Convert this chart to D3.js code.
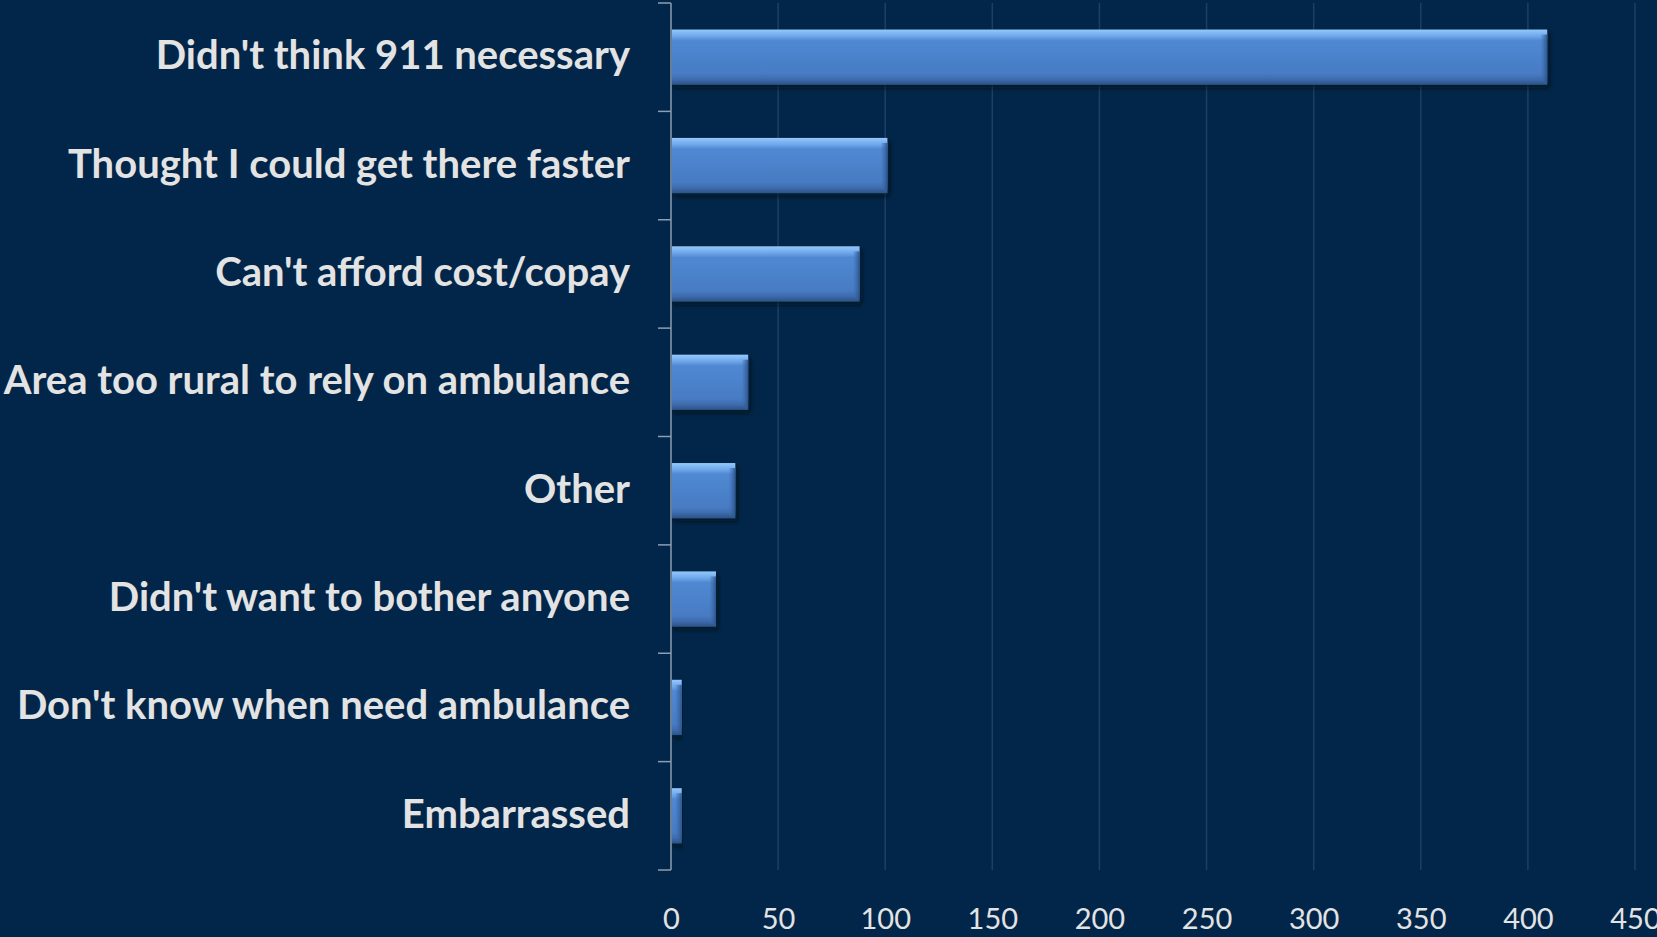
<!DOCTYPE html>
<html>
<head>
<meta charset="utf-8">
<script src="https://cdn.jsdelivr.net/npm/d3@7"></script>
<style>
  html, body { margin: 0; padding: 0; background: #022649; overflow: hidden; }
  svg { display: block; }
</style>
</head>
<body>
<div id="chart"></div>
<script>
const categories = [
  "Didn't think 911 necessary",
  'Thought I could get there faster',
  "Can't afford cost/copay",
  'Area too rural to rely on ambulance',
  'Other',
  "Didn't want to bother anyone",
  "Don't know when need ambulance",
  'Embarrassed',
];
const counts = [409, 101, 88, 36, 30, 21, 5, 5];
const xTicks = [0, 50, 100, 150, 200, 250, 300, 350, 400, 450];

const width = 1657;
const height = 937;
const margin = { top: 3, right: 22, bottom: 67, left: 671 };
const innerW = width - margin.left - margin.right;
const innerH = height - margin.top - margin.bottom;

const data = categories.map((c, i) => ({ key: c, value: counts[i] }));

const svg = d3.select('#chart').append('svg')
  .attr('width', width)
  .attr('height', height);

svg.append('rect')
  .attr('width', width)
  .attr('height', height)
  .attr('fill', '#022649');

const defs = svg.append('defs');

// bevelled bar look: light top edge, darker bottom
const grad = defs.append('linearGradient')
  .attr('id', 'barGrad')
  .attr('x1', 0).attr('y1', 0).attr('x2', 0).attr('y2', 1);
grad.append('stop').attr('offset', '0%').attr('stop-color', '#94c8fd');
grad.append('stop').attr('offset', '12%').attr('stop-color', '#6ea7ea');
grad.append('stop').attr('offset', '20%').attr('stop-color', '#5089d2');
grad.append('stop').attr('offset', '80%').attr('stop-color', '#477bc3');
grad.append('stop').attr('offset', '90%').attr('stop-color', '#3e6cae');
grad.append('stop').attr('offset', '100%').attr('stop-color', '#2c5187');

const edge = defs.append('linearGradient')
  .attr('id', 'edgeGrad')
  .attr('x1', 0).attr('y1', 0).attr('x2', 1).attr('y2', 0);
edge.append('stop').attr('offset', '0%').attr('stop-color', '#3d6db0').attr('stop-opacity', 0.2);
edge.append('stop').attr('offset', '100%').attr('stop-color', '#2b4f86').attr('stop-opacity', 0.9);

const shadow = defs.append('filter')
  .attr('id', 'shadow')
  .attr('x', '-5%').attr('y', '-20%').attr('width', '115%').attr('height', '160%');
shadow.append('feDropShadow')
  .attr('dx', 2).attr('dy', 3).attr('stdDeviation', 2.5)
  .attr('flood-color', '#000814').attr('flood-opacity', 0.7);

const x = d3.scaleLinear().domain([0, 450]).range([0, innerW]);
const y = d3.scaleBand().domain(categories).range([0, innerH]).paddingInner(0.49).paddingOuter(0.245);
const band = d3.scaleBand().domain(categories).range([0, innerH]);

const g = svg.append('g')
  .attr('transform', `translate(${margin.left},${margin.top})`);

// vertical gridlines
g.append('g')
  .selectAll('line')
  .data(xTicks.slice(1))
  .enter().append('line')
    .attr('x1', d => x(d))
    .attr('x2', d => x(d))
    .attr('y1', 0)
    .attr('y2', innerH)
    .attr('stroke', '#1d3f64')
    .attr('stroke-width', 1.5);

// bars
const bars = g.selectAll('.bar')
  .data(data)
  .enter().append('g')
    .attr('class', 'bar');

bars.append('rect')
  .attr('x', 1)
  .attr('y', d => y(d.key))
  .attr('width', d => x(d.value) - 1)
  .attr('height', y.bandwidth())
  .attr('fill', 'url(#barGrad)')
  .attr('filter', 'url(#shadow)');

bars.append('rect')
  .attr('x', d => Math.max(1, x(d.value) - 6))
  .attr('y', d => y(d.key) + 5)
  .attr('width', d => Math.min(6, x(d.value) - 1))
  .attr('height', y.bandwidth() - 8)
  .attr('fill', 'url(#edgeGrad)');

// x axis labels, no line
const xAxis = g.append('g')
  .attr('transform', `translate(0,${innerH})`)
  .call(d3.axisBottom(x).tickValues(xTicks).tickSize(0).tickPadding(38));
xAxis.select('.domain').remove();
xAxis.selectAll('text')
  .attr('fill', '#e3e3e3')
  .style('font-family', 'Lato, "Open Sans", sans-serif')
  .style('font-size', '29px');

// y axis with tick marks between categories
const yAxis = g.append('g');
yAxis.append('line')
  .attr('x1', 0).attr('x2', 0)
  .attr('y1', 0).attr('y2', innerH)
  .attr('stroke', '#8d9db2')
  .attr('stroke-width', 1.5);
yAxis.selectAll('.ytick')
  .data(categories.concat(['end']))
  .enter().append('line')
    .attr('class', 'ytick')
    .attr('x1', -13).attr('x2', 0)
    .attr('y1', (d, i) => (i < categories.length ? band(d) : innerH))
    .attr('y2', (d, i) => (i < categories.length ? band(d) : innerH))
    .attr('stroke', '#8d9db2')
    .attr('stroke-width', 1.5);

yAxis.selectAll('.ylabel')
  .data(categories)
  .enter().append('text')
    .attr('class', 'ylabel')
    .attr('x', -41)
    .attr('y', d => band(d) + band.bandwidth() / 2)
    .attr('dy', '0.3em')
    .attr('text-anchor', 'end')
    .attr('fill', '#e3e3e3')
    .style('font-family', 'Lato, "Open Sans", sans-serif')
    .style('font-weight', 'bold')
    .style('font-size', '40px')
    .text(d => d);
</script>
</body>
</html>
